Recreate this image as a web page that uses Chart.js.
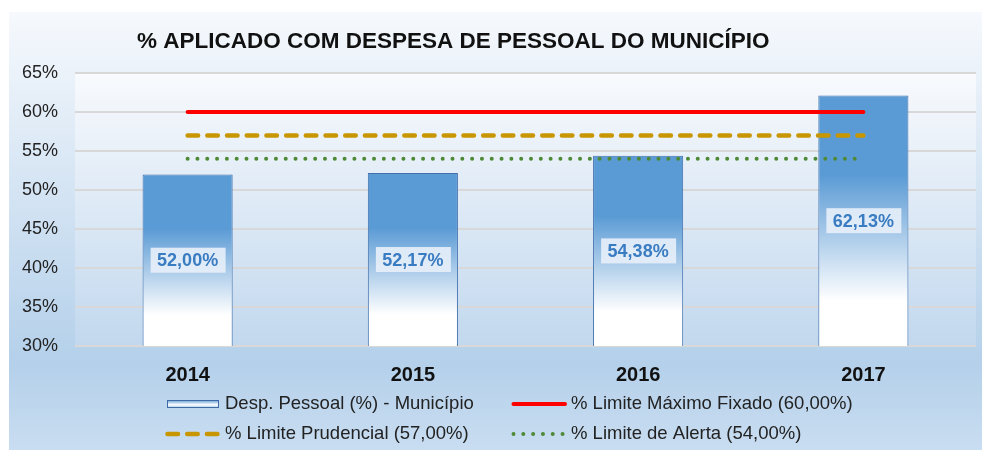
<!DOCTYPE html>
<html>
<head>
<meta charset="utf-8">
<script src="https://cdn.jsdelivr.net/npm/chart.js@4/dist/chart.umd.min.js"></script>
<style>
  html, body { margin: 0; padding: 0; background: #fff; }
  #wrap { position: relative; width: 982px; height: 450px; }
</style>
</head>
<body>
<div id="wrap"><canvas id="chart" width="982" height="450"></canvas></div>
<script>
"use strict";

// ~ Data
const years = ["2014", "2015", "2016", "2017"];
const despPessoal = [52.0, 52.17, 54.38, 62.13];
const limiteMaximo = [60, 60, 60, 60];
const limitePrudencial = [57, 57, 57, 57];
const limiteAlerta = [54, 54, 54, 54];
const yTicks = [30, 35, 40, 45, 50, 55, 60, 65];
const chartTitle = "% APLICADO COM DESPESA DE PESSOAL DO MUNICÍPIO";
const legendLabels = [
  "Desp. Pessoal (%) - Município",
  "% Limite Máximo Fixado (60,00%)",
  "% Limite Prudencial (57,00%)",
  "% Limite de Alerta (54,00%)",
];

const FONT = "'Liberation Sans', Arial, sans-serif";
const fmt = (v) => v.toFixed(2).replace(".", ",") + "%";

// * Background, plot area, title
const backdrop = {
  id: "backdrop",
  beforeDraw(chart) {
    const { ctx, chartArea: a } = chart;
    ctx.save();
    let g = ctx.createLinearGradient(0, 12, 0, 450);
    g.addColorStop(0, "#f6f9fd");
    g.addColorStop(0.8, "#b4d0ea");
    g.addColorStop(1, "#c9ddf1");
    ctx.fillStyle = g;
    ctx.fillRect(9, 12, 973, 438);

    g = ctx.createLinearGradient(0, a.top, 0, a.bottom);
    g.addColorStop(0, "#f8fafd");
    g.addColorStop(1, "#c2d8ee");
    ctx.fillStyle = g;
    ctx.fillRect(a.left, a.top, a.right - a.left, a.bottom - a.top);

    ctx.fillStyle = "#111";
    ctx.font = "bold 22.5px " + FONT;
    ctx.textBaseline = "alphabetic";
    ctx.fillText(chartTitle, 137, 48);
    ctx.restore();
  },
};

// & Value boxes in the middle of each bar
const barLabels = {
  id: "barLabels",
  afterDatasetsDraw(chart) {
    const { ctx } = chart;
    const meta = chart.getDatasetMeta(0);
    const base = chart.scales.y.getPixelForValue(30);
    ctx.save();
    ctx.font = "bold 18px " + FONT;
    ctx.textAlign = "center";
    ctx.textBaseline = "middle";
    meta.data.forEach((bar, i) => {
      const cy = (bar.y + base) / 2;
      ctx.fillStyle = "rgba(232,240,249,0.9)";
      ctx.fillRect(bar.x - 37, cy - 12.5, 75, 25);
      ctx.fillStyle = "#3a7cc2";
      ctx.fillText(fmt(despPessoal[i]), bar.x, cy + 1);
    });
    ctx.restore();
  },
};

// ! Two-row legend under the axis
const legend2 = {
  id: "legend2",
  afterDraw(chart) {
    const { ctx } = chart;
    const ds = chart.data.datasets;
    const spots = [
      [165, 404],
      [511, 404],
      [165, 434],
      [511, 434],
    ];
    ctx.save();
    ctx.textBaseline = "middle";
    ctx.font = "18.5px " + FONT;
    spots.forEach(([x, y], i) => {
      const d = ds[i];
      if (d.type === "bar") {
        const g = ctx.createLinearGradient(0, y - 4, 0, y + 4);
        g.addColorStop(0, "#5b9bd5");
        g.addColorStop(0.6, "#ffffff");
        g.addColorStop(1, "#9cc2e6");
        ctx.fillStyle = g;
        ctx.fillRect(x + 2, y - 4, 52, 8);
        ctx.strokeStyle = "#3f6aa5";
        ctx.lineWidth = 1;
        ctx.strokeRect(x + 2.5, y - 3.5, 51, 7);
      } else {
        ctx.beginPath();
        ctx.strokeStyle = d.borderColor;
        ctx.lineWidth = d.borderWidth;
        ctx.lineCap = d.borderCapStyle || "butt";
        ctx.setLineDash(d.borderDash || []);
        ctx.moveTo(x + 2.5, y);
        ctx.lineTo(x + 54, y);
        ctx.stroke();
        ctx.setLineDash([]);
      }
      ctx.fillStyle = "#222";
      ctx.fillText(legendLabels[i], x + 60, y);
    });
    ctx.restore();
  },
};

function barFill(context) {
  const chart = context.chart;
  const y = chart.scales.y;
  if (!y || context.raw == null) return "#5b9bd5";
  const top = y.getPixelForValue(context.raw);
  const bottom = y.getPixelForValue(30);
  if (!isFinite(top) || !isFinite(bottom)) return "#5b9bd5";
  const g = chart.ctx.createLinearGradient(0, top, 0, bottom);
  g.addColorStop(0, "#5b9bd5");
  g.addColorStop(0.32, "#5b9bd5");
  g.addColorStop(0.82, "#ffffff");
  g.addColorStop(1, "#ffffff");
  return g;
}

const ctx = document.getElementById("chart").getContext("2d");
new Chart(ctx, {
  data: {
    labels: years,
    datasets: [
      {
        type: "bar",
        label: legendLabels[0],
        data: despPessoal,
        backgroundColor: barFill,
        borderColor: "#4170ad",
        borderWidth: 1,
        borderSkipped: "bottom",
        categoryPercentage: 1,
        barPercentage: 0.4,
        order: 2,
      },
      {
        type: "line",
        label: legendLabels[1],
        data: limiteMaximo,
        borderColor: "#ff0000",
        borderWidth: 4,
        borderCapStyle: "round",
        pointRadius: 0,
        order: 1,
      },
      {
        type: "line",
        label: legendLabels[2],
        data: limitePrudencial,
        borderColor: "#c89600",
        borderWidth: 4.5,
        borderCapStyle: "round",
        borderDash: [10.5, 9.2],
        pointRadius: 0,
        order: 1,
      },
      {
        type: "line",
        label: legendLabels[3],
        data: limiteAlerta,
        borderColor: "#4e8a36",
        borderWidth: 4,
        borderCapStyle: "round",
        borderDash: [0.01, 9.8],
        pointRadius: 0,
        order: 1,
      },
    ],
  },
  options: {
    responsive: false,
    animation: false,
    layout: { padding: { top: 73, right: 6, bottom: 0, left: 0 } },
    plugins: {
      legend: { display: false },
      title: { display: false },
      tooltip: { enabled: false },
    },
    scales: {
      x: {
        grid: { display: false },
        border: { display: false },
        ticks: {
          color: "#111",
          font: { family: FONT, size: 20, weight: "bold" },
          padding: 9,
        },
        afterFit: (s) => { s.height = 104; },
      },
      y: {
        min: 30,
        max: 65,
        afterBuildTicks: (s) => { s.ticks = yTicks.map((v) => ({ value: v })); },
        grid: { color: "#d8d8d8", lineWidth: 2, drawTicks: false },
        border: { display: false },
        ticks: {
          color: "#222",
          font: { family: FONT, size: 18 },
          padding: 17,
          callback: (v) => v + "%",
        },
        afterFit: (s) => { s.width = 75; },
      },
    },
  },
  plugins: [backdrop, barLabels, legend2],
});
</script>
</body>
</html>
